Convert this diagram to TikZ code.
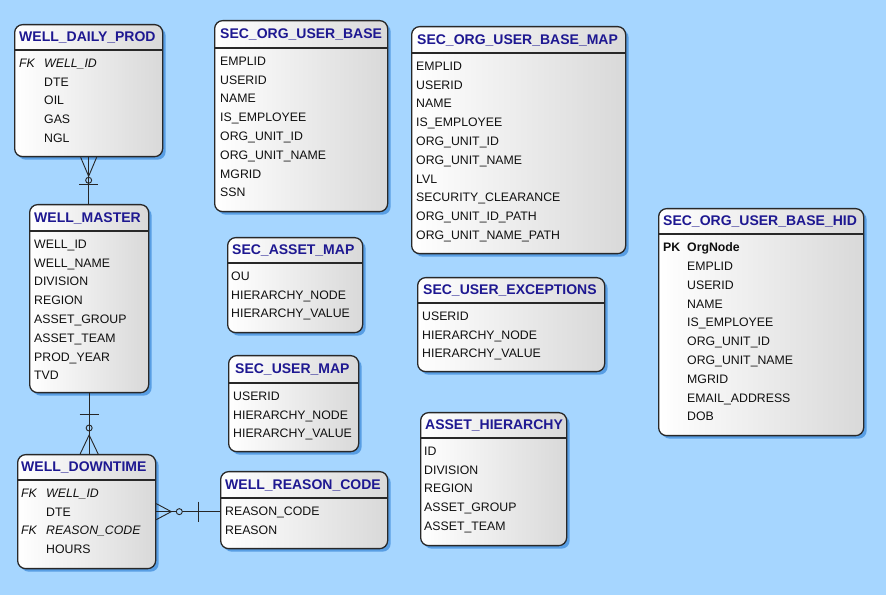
\documentclass[tikz,border=0pt]{standalone}
\usepackage{fontspec}
\setmainfont{Liberation Sans}
\usetikzlibrary{shadows}
\definecolor{bgblue}{RGB}{166,214,255}
\definecolor{shadeblue}{RGB}{88,158,228}
\definecolor{titleblue}{RGB}{30,24,145}
\definecolor{boxline}{RGB}{40,40,40}
\definecolor{fieldtext}{RGB}{15,15,15}
\newcommand{\fkrow}[1]{\makebox[25bp][l]{\itshape FK}\textit{#1}}
\newcommand{\pkrow}[1]{\makebox[24bp][l]{\bfseries PK}\textbf{#1}}
\newcommand{\inrow}[1]{\hspace*{25bp}#1}
\newcommand{\hidrow}[1]{\hspace*{24bp}#1}
\begin{document}
\begin{tikzpicture}[x=1bp,y=1bp,
  tbl/.style={draw=boxline, line width=1.3bp, rounded corners=8bp, inner sep=0pt,
    anchor=north west, left color=white, right color=black!15,
    drop shadow={shadow xshift=3bp, shadow yshift=-3bp, fill=shadeblue, opacity=1}},
  hdrline/.style={draw=boxline, line width=1.2bp},
  tbltitle/.style={anchor=west, inner sep=0pt, text=titleblue,
    font=\fontsize{14bp}{16bp}\selectfont\bfseries},
  tblfields/.style={anchor=north west, inner sep=0pt, align=left, text=fieldtext,
    font=\fontsize{12.3bp}{18.8bp}\selectfont},
  rel/.style={line width=0.9bp, draw=black!85},
]
\path[use as bounding box, fill=bgblue] (0,0) rectangle (886,595);
%%
  % Node: WELL_DAILY_PROD
\begin{scope}
  \node[tbl, minimum width=148bp, minimum height=132bp] (wdp) at (14,571) {};
  \draw[hdrline] ([yshift=-26bp]wdp.north west) -- ([yshift=-26bp]wdp.north east);
  \node[tbltitle] (wdp-t) at ([xshift=5bp,yshift=-13.5bp]wdp.north west) {WELL\_DAILY\_PROD};
  \node[tblfields] (wdp-f) at ([xshift=5bp,yshift=-34.6bp]wdp.north west)
    {\fkrow{WELL\_ID}\\ \inrow{DTE}\\ \inrow{OIL}\\ \inrow{GAS}\\ \inrow{NGL}};
\end{scope}
  % Node: WELL_MASTER
\begin{scope}
  \node[tbl, minimum width=119bp, minimum height=188bp] (wm) at (29,391) {};
  \draw[hdrline] ([yshift=-27bp]wm.north west) -- ([yshift=-27bp]wm.north east);
  \node[tbltitle] (wm-t) at ([xshift=5bp,yshift=-14bp]wm.north west) {WELL\_MASTER};
  \node[tblfields] (wm-f) at ([xshift=5bp,yshift=-35.6bp]wm.north west)
    {WELL\_ID\\ WELL\_NAME\\ DIVISION\\ REGION\\ ASSET\_GROUP\\ ASSET\_TEAM\\ PROD\_YEAR\\ TVD};
\end{scope}
  % Node: WELL_DOWNTIME
\begin{scope}
  \node[tbl, minimum width=138bp, minimum height=114bp] (wdt) at (17,141) {};
  \draw[hdrline] ([yshift=-26bp]wdt.north west) -- ([yshift=-26bp]wdt.north east);
  \node[tbltitle] (wdt-t) at ([xshift=4bp,yshift=-13.5bp]wdt.north west) {WELL\_DOWNTIME};
  \node[tblfields] (wdt-f) at ([xshift=4bp,yshift=-34.6bp]wdt.north west)
    {\fkrow{WELL\_ID}\\ \inrow{DTE}\\ \fkrow{REASON\_CODE}\\ \inrow{HOURS}};
\end{scope}
  % Node: WELL_REASON_CODE
\begin{scope}
  \node[tbl, minimum width=167bp, minimum height=77bp] (wrc) at (220,124) {};
  \draw[hdrline] ([yshift=-27bp]wrc.north west) -- ([yshift=-27bp]wrc.north east);
  \node[tbltitle] (wrc-t) at ([xshift=5bp,yshift=-14bp]wrc.north west) {WELL\_REASON\_CODE};
  \node[tblfields] (wrc-f) at ([xshift=5bp,yshift=-35.6bp]wrc.north west)
    {REASON\_CODE\\ REASON};
\end{scope}
  % Node: SEC_ORG_USER_BASE
\begin{scope}
  \node[tbl, minimum width=173bp, minimum height=191bp] (soub) at (214,575) {};
  \draw[hdrline] ([yshift=-28bp]soub.north west) -- ([yshift=-28bp]soub.north east);
  \node[tbltitle] (soub-t) at ([xshift=6bp,yshift=-14.5bp]soub.north west) {SEC\_ORG\_USER\_BASE};
  \node[tblfields] (soub-f) at ([xshift=6bp,yshift=-36.6bp]soub.north west)
    {EMPLID\\ USERID\\ NAME\\ IS\_EMPLOYEE\\ ORG\_UNIT\_ID\\ ORG\_UNIT\_NAME\\ MGRID\\ SSN};
\end{scope}
  % Node: SEC_ASSET_MAP
\begin{scope}
  \node[tbl, minimum width=135bp, minimum height=95bp] (sam) at (227,358) {};
  \draw[hdrline] ([yshift=-26bp]sam.north west) -- ([yshift=-26bp]sam.north east);
  \node[tbltitle] (sam-t) at ([xshift=5bp,yshift=-13.5bp]sam.north west) {SEC\_ASSET\_MAP};
  \node[tblfields] (sam-f) at ([xshift=4bp,yshift=-34.6bp]sam.north west)
    {OU\\ HIERARCHY\_NODE\\ HIERARCHY\_VALUE};
\end{scope}
  % Node: SEC_USER_MAP
\begin{scope}
  \node[tbl, minimum width=130bp, minimum height=96bp] (sum) at (228,240) {};
  \draw[hdrline] ([yshift=-28bp]sum.north west) -- ([yshift=-28bp]sum.north east);
  \node[tbltitle] (sum-t) at ([xshift=7bp,yshift=-14.5bp]sum.north west) {SEC\_USER\_MAP};
  \node[tblfields] (sum-f) at ([xshift=5bp,yshift=-36.6bp]sum.north west)
    {USERID\\ HIERARCHY\_NODE\\ HIERARCHY\_VALUE};
\end{scope}
  % Node: SEC_ORG_USER_BASE_MAP
\begin{scope}
  \node[tbl, minimum width=214bp, minimum height=227bp] (soubm) at (411,569) {};
  \draw[hdrline] ([yshift=-27bp]soubm.north west) -- ([yshift=-27bp]soubm.north east);
  \node[tbltitle] (soubm-t) at ([xshift=6bp,yshift=-14bp]soubm.north west) {SEC\_ORG\_USER\_BASE\_MAP};
  \node[tblfields] (soubm-f) at ([xshift=5bp,yshift=-35.6bp]soubm.north west)
    {EMPLID\\ USERID\\ NAME\\ IS\_EMPLOYEE\\ ORG\_UNIT\_ID\\ ORG\_UNIT\_NAME\\ LVL\\
     SECURITY\_CLEARANCE\\ ORG\_UNIT\_ID\_PATH\\ ORG\_UNIT\_NAME\_PATH};
\end{scope}
  % Node: SEC_USER_EXCEPTIONS
\begin{scope}
  \node[tbl, minimum width=187bp, minimum height=94bp] (sue) at (417,318) {};
  \draw[hdrline] ([yshift=-26bp]sue.north west) -- ([yshift=-26bp]sue.north east);
  \node[tbltitle] (sue-t) at ([xshift=6bp,yshift=-13.5bp]sue.north west) {SEC\_USER\_EXCEPTIONS};
  \node[tblfields] (sue-f) at ([xshift=5bp,yshift=-34.6bp]sue.north west)
    {USERID\\ HIERARCHY\_NODE\\ HIERARCHY\_VALUE};
\end{scope}
  % Node: ASSET_HIERARCHY
\begin{scope}
  \node[tbl, minimum width=146bp, minimum height=133bp] (ah) at (420,183) {};
  \draw[hdrline] ([yshift=-26bp]ah.north west) -- ([yshift=-26bp]ah.north east);
  \node[tbltitle] (ah-t) at ([xshift=5bp,yshift=-13.5bp]ah.north west) {ASSET\_HIERARCHY};
  \node[tblfields] (ah-f) at ([xshift=4bp,yshift=-34.6bp]ah.north west)
    {ID\\ DIVISION\\ REGION\\ ASSET\_GROUP\\ ASSET\_TEAM};
\end{scope}
  % Node: SEC_ORG_USER_BASE_HID
\begin{scope}
  \node[tbl, minimum width=205bp, minimum height=227bp] (hid) at (658,387) {};
  \draw[hdrline] ([yshift=-26bp]hid.north west) -- ([yshift=-26bp]hid.north east);
  \node[tbltitle] (hid-t) at ([xshift=5bp,yshift=-13.5bp]hid.north west) {SEC\_ORG\_USER\_BASE\_HID};
  \node[tblfields] (hid-f) at ([xshift=5bp,yshift=-34.6bp]hid.north west)
    {\pkrow{OrgNode}\\ \hidrow{EMPLID}\\ \hidrow{USERID}\\ \hidrow{NAME}\\ \hidrow{IS\_EMPLOYEE}\\
     \hidrow{ORG\_UNIT\_ID}\\ \hidrow{ORG\_UNIT\_NAME}\\ \hidrow{MGRID}\\ \hidrow{EMAIL\_ADDRESS}\\ \hidrow{DOB}};
\end{scope}
%%
  % Edge: WELL_DAILY_PROD -> WELL_MASTER
  \coordinate (wm-top) at (wdp.south |- wm.north);
  \draw[rel] (wdp.south) -- (wm-top);
  \draw[rel] ([xshift=-8bp]wdp.south) -- ([yshift=-19bp]wdp.south) -- ([xshift=8bp]wdp.south);
  \draw[rel] ([yshift=-23bp]wdp.south) circle (3bp);
  \draw[rel] ([xshift=-9.5bp,yshift=-27bp]wdp.south) -- ([xshift=9.5bp,yshift=-27bp]wdp.south);
  % Edge: WELL_MASTER -> WELL_DOWNTIME
  \coordinate (wdt-top) at (wm.south |- wdt.north);
  \draw[rel] (wm.south) -- (wdt-top);
  \draw[rel] ([xshift=-9.5bp,yshift=-21bp]wm.south) -- ([xshift=9.5bp,yshift=-21bp]wm.south);
  \draw[rel] ([yshift=26bp]wdt-top) circle (3bp);
  \draw[rel] ([xshift=-9bp]wdt-top) -- ([yshift=19bp]wdt-top) -- ([xshift=9bp]wdt-top);
  % Edge: WELL_DOWNTIME -> WELL_REASON_CODE
  \coordinate (wrc-left) at (wdt.east -| wrc.west);
  \draw[rel] (wdt.east) -- (wrc-left);
  \draw[rel] ([yshift=8bp]wdt.east) -- ([xshift=15bp]wdt.east) -- ([yshift=-8bp]wdt.east);
  \draw[rel, fill=bgblue] ([xshift=23bp]wdt.east) circle (3bp);
  \draw[rel] ([xshift=-22bp,yshift=10bp]wrc-left) -- ([xshift=-22bp,yshift=-10bp]wrc-left);
%
\end{tikzpicture}
\end{document}
